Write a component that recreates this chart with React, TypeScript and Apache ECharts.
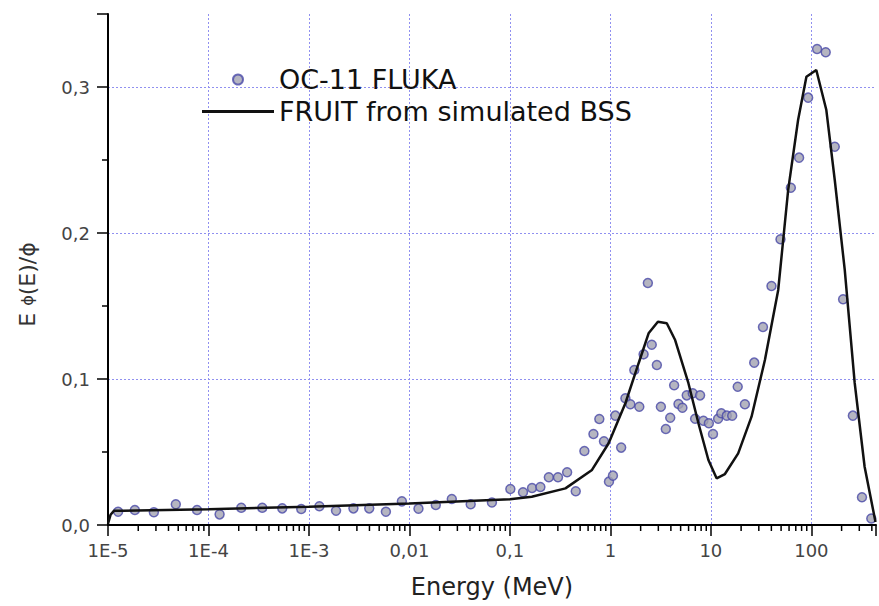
import React, { useEffect, useRef } from "react";
import * as echarts from "echarts";

// OC-11 FLUKA points: energy (MeV) and E·phi(E)/phi
const FLUKA_E = [
  1.26e-5, 1.85e-5, 2.86e-5, 4.73e-5, 7.69e-5, 1.29e-4, 2.12e-4, 3.43e-4, 5.42e-4, 8.38e-4,
  1.27e-3, 1.86e-3, 2.77e-3, 3.98e-3, 5.83e-3, 8.41e-3, 1.23e-2, 1.83e-2, 2.64e-2, 4.07e-2,
  6.62e-2, 0.101, 0.135, 0.166, 0.201, 0.244, 0.301, 0.371, 0.452, 0.551,
  0.678, 0.776, 0.863, 0.968, 1.06, 1.12, 1.28, 1.41, 1.58, 1.73,
  1.94, 2.14, 2.36, 2.58, 2.9, 3.18, 3.56, 3.94, 4.31, 4.76,
  5.21, 5.75, 6.6, 6.97, 7.81, 8.43, 9.55, 10.5, 11.8, 12.7,
  14.4, 16.3, 18.5, 21.8, 27.0, 33.0, 40.1, 49.3, 62.5, 75.5,
  92.9, 114, 139, 171, 207, 259, 319, 395,
];
const FLUKA_V = [
  0.0091, 0.0103, 0.0087, 0.0142, 0.0103, 0.0073, 0.0118, 0.0118, 0.0114, 0.011,
  0.0128, 0.0098, 0.0114, 0.0114, 0.0091, 0.0162, 0.0112, 0.0137, 0.0178, 0.0142,
  0.0154, 0.0247, 0.0224, 0.0253, 0.026, 0.0327, 0.0327, 0.0361, 0.0231, 0.0507,
  0.0623, 0.0726, 0.0573, 0.0297, 0.0338, 0.0749, 0.053, 0.0868, 0.0827, 0.1062,
  0.081, 0.1169, 0.1658, 0.1235, 0.1096, 0.081, 0.0658, 0.0735, 0.0957, 0.0829,
  0.0803, 0.0888, 0.0902, 0.0728, 0.0888, 0.0714, 0.0697, 0.0623, 0.0728, 0.0765,
  0.0749, 0.0749, 0.0947, 0.0827, 0.1112, 0.1356, 0.1637, 0.1957, 0.231, 0.2516,
  0.2927, 0.326, 0.3238, 0.2591, 0.1546, 0.0749, 0.019, 0.0045,
];

// FRUIT unfolded spectrum
const FRUIT_E = [
  1.0e-5, 1.06e-5, 1.15e-5, 1.42e-5, 1e-4, 1e-3, 0.01, 0.1, 0.165, 0.357,
  0.656, 0.961, 1.41, 1.91, 2.4, 2.97, 3.64, 4.41, 5.98, 7.52,
  9.45, 11.4, 13.8, 18.7, 25.4, 34.5, 46.8, 58.8, 73.8, 89.3,
  112, 141, 171, 215, 270, 339, 435,
];
const FRUIT_V = [
  0.001, 0.007, 0.0098, 0.0098, 0.0108, 0.0125, 0.0148, 0.0176, 0.0194, 0.0251,
  0.0377, 0.056, 0.0834, 0.1108, 0.1313, 0.1392, 0.1382, 0.1267, 0.0971, 0.0697,
  0.0445, 0.032, 0.0349, 0.0491, 0.0742, 0.113, 0.161, 0.2295, 0.2774, 0.307,
  0.3116, 0.2842, 0.2363, 0.1747, 0.0973, 0.0399, 0.002,
];

const X_MIN = 1e-5;
const X_MAX = 440;
const Y_MAX = 0.35;
const X_TICK_LABELS: Record<number, string> = {
  [-5]: "1E-5",
  [-4]: "1E-4",
  [-3]: "1E-3",
  [-2]: "0,01",
  [-1]: "0,1",
  [0]: "1",
  [1]: "10",
  [2]: "100",
};
const DECADES = [1e-5, 1e-4, 1e-3, 1e-2, 1e-1, 1, 10, 100];
const MINOR_MULT = [2, 3, 4, 5, 6, 7, 8, 9];

const SERIES_FLUKA = "OC-11 FLUKA";
const SERIES_FRUIT = "FRUIT from simulated BSS";

export default function App() {
  const ref = useRef<HTMLDivElement>(null);

  useEffect(() => {
    document.body.style.margin = "0";
    if (!ref.current) return;
    const chart = echarts.init(ref.current, undefined, { renderer: "svg" });

    const minorTicks: number[][] = [];
    DECADES.forEach((d) =>
      MINOR_MULT.forEach((m) => {
        const v = d * m;
        if (v < X_MAX) minorTicks.push([v, 0]);
      })
    );

    const font = "DejaVu Sans";
    const grid = "#9090f0";

    chart.setOption({
      animation: false,
      backgroundColor: "#ffffff",
      grid: { left: 108, right: 0, top: 14, bottom: 81, containLabel: false },
      legend: {
        data: [
          { name: SERIES_FLUKA, icon: "circle" },
          { name: SERIES_FRUIT, icon: "path://M0,0 L72,0 L72,3 L0,3 Z" },
        ],
        orient: "vertical",
        left: 197,
        top: 61,
        itemWidth: 72,
        itemHeight: 10,
        itemGap: 5,
        symbolKeepAspect: true,
        textStyle: { fontFamily: font, fontSize: 27, color: "#111" },
      },
      xAxis: {
        type: "log",
        logBase: 10,
        min: X_MIN,
        max: X_MAX,
        splitNumber: 8,
        name: "Energy (MeV)",
        nameLocation: "middle",
        nameGap: 50,
        nameTextStyle: { fontFamily: font, fontSize: 24, color: "#222" },
        axisLine: { show: true, lineStyle: { color: "#000", width: 2 } },
        axisTick: { show: true, inside: false, length: 11, lineStyle: { color: "#000", width: 1.5 } },
        axisLabel: {
          margin: 16,
          fontFamily: font,
          fontSize: 18,
          color: "#444",
          formatter: (v: number) => {
            const k = Math.round(Math.log10(v));
            if (Math.abs(Math.log10(v) - k) > 1e-6) return "";
            return X_TICK_LABELS[k] ?? "";
          },
        },
        splitLine: {
          show: true,
          showMinLine: false,
          showMaxLine: false,
          lineStyle: { color: grid, width: 1, type: [2, 2] },
        },
        minorTick: { show: false },
      },
      yAxis: {
        type: "value",
        min: 0,
        max: Y_MAX,
        interval: 0.1,
        name: "E {s|ϕ}(E)/ϕ",
        nameLocation: "middle",
        nameGap: 70,
        nameRotate: 90,
        nameTextStyle: {
          fontFamily: font,
          fontSize: 22,
          color: "#333",
          padding: [0, 30, 0, 0],
          rich: { s: { fontFamily: font, fontSize: 16, color: "#333" } },
        },
        axisLine: { show: true, lineStyle: { color: "#000", width: 2 } },
        axisTick: { show: true, inside: false, length: 11, lineStyle: { color: "#000", width: 1.5 } },
        minorTick: { show: true, splitNumber: 2, length: 6, lineStyle: { color: "#000", width: 1.5 } },
        axisLabel: {
          margin: 18,
          fontFamily: font,
          fontSize: 18,
          color: "#444",
          formatter: (v: number) => {
            const r = Math.round(v * 10);
            if (Math.abs(v * 10 - r) > 1e-6) return "";
            return (r / 10).toFixed(1).replace(".", ",");
          },
        },
        splitLine: {
          show: true,
          showMinLine: false,
          showMaxLine: false,
          lineStyle: { color: grid, width: 1, type: [2, 2] },
        },
        minorSplitLine: { show: false },
      },
      series: [
        {
          name: SERIES_FLUKA,
          type: "scatter",
          symbol: "circle",
          symbolSize: 9,
          itemStyle: { color: "#a2a2b2", borderColor: "#4848a8", borderWidth: 1.5 },
          data: FLUKA_E.map((e, i) => [e, FLUKA_V[i]]),
          z: 3,
        },
        {
          name: SERIES_FRUIT,
          type: "line",
          symbol: "none",
          smooth: false,
          lineStyle: { color: "#111", width: 2.5 },
          itemStyle: { color: "#111" },
          data: FRUIT_E.map((e, i) => [e, FRUIT_V[i]]),
          z: 4,
        },
        {
          name: "minor-ticks",
          type: "custom",
          silent: true,
          clip: false,
          data: minorTicks,
          renderItem: (_params: any, api: any) => {
            const p = api.coord([api.value(0), 0]);
            return {
              type: "line",
              shape: { x1: p[0], y1: p[1], x2: p[0], y2: p[1] + 6 },
              style: { stroke: "#000", lineWidth: 1.5 },
            };
          },
          z: 5,
        },
      ],
    });

    return () => chart.dispose();
  }, []);

  return <div ref={ref} style={{ width: 879, height: 606 }} />;
}
